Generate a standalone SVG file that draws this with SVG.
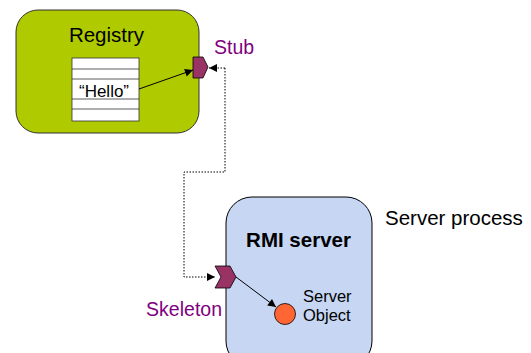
<svg xmlns="http://www.w3.org/2000/svg" width="531" height="353" viewBox="0 0 531 353">
<defs>
<style>
text{font-family:"Liberation Sans",Arial,sans-serif}
.purple{fill:#800080;font-size:19.5px}
.conn{stroke:#000;stroke-width:1;fill:none}
.dot{stroke:#000;stroke-width:1;fill:none;stroke-dasharray:1.5,1.5}
.port{fill:#993366;stroke:#000;stroke-width:0.8}
</style>
<marker id="ah" viewBox="0 0 10 10" refX="10" refY="5" markerWidth="11" markerHeight="8" markerUnits="userSpaceOnUse" orient="auto">
<path d="M0,0 L10,5 L0,10 z" fill="#000"/>
</marker>
</defs>
<rect width="531" height="353" fill="#fff"/>
<g id="registry">
<rect x="16" y="10" width="183" height="123" rx="22" fill="#afcb00" stroke="#333" stroke-width="1"/>
<text x="106.5" y="42" font-size="20.5" text-anchor="middle">Registry</text>
<g id="table">
<rect x="72" y="58" width="67" height="63" fill="#fff" stroke="#333" stroke-width="0.8"/>
<path d="M72,69H139M72,79H139M72,99H139M72,109H139" stroke="#333" stroke-width="0.8"/>
<text x="104" y="97" font-size="17" text-anchor="middle">“Hello”</text>
</g>
</g>
<g id="stub">
<path class="port" d="M193,57H203L208,67L203,78H193Z"/>
<text class="purple" x="214" y="54">Stub</text>
</g>
<g id="rmi-server">
<rect x="226" y="197" width="146" height="170" rx="26" fill="#c6d6f3" stroke="#000" stroke-width="1"/>
<text x="298.5" y="247" font-size="20.5" font-weight="bold" text-anchor="middle">RMI server</text>
</g>
<g id="server-object">
<circle cx="285" cy="314" r="10.5" fill="#ff6633" stroke="#000" stroke-width="0.8"/>
<text x="303" y="302" font-size="16.5">Server</text>
<text x="303" y="321" font-size="16.5">Object</text>
</g>
<g id="skeleton">
<path class="port" d="M215,266H230L236,277L230,288H215L221,277Z"/>
<text class="purple" x="222" y="316" text-anchor="end">Skeleton</text>
</g>
<text id="server-process" x="385" y="225" font-size="20.5">Server process</text>
<g id="connectors">
<path class="conn" d="M139,89L193,70" marker-end="url(#ah)"/>
<path class="dot" d="M225,68V172H184V277H215" marker-end="url(#ah)"/>
<path class="dot" d="M225,68H209" marker-end="url(#ah)"/>
<path class="conn" d="M236,277L276,307" marker-end="url(#ah)"/>
</g>
</svg>
